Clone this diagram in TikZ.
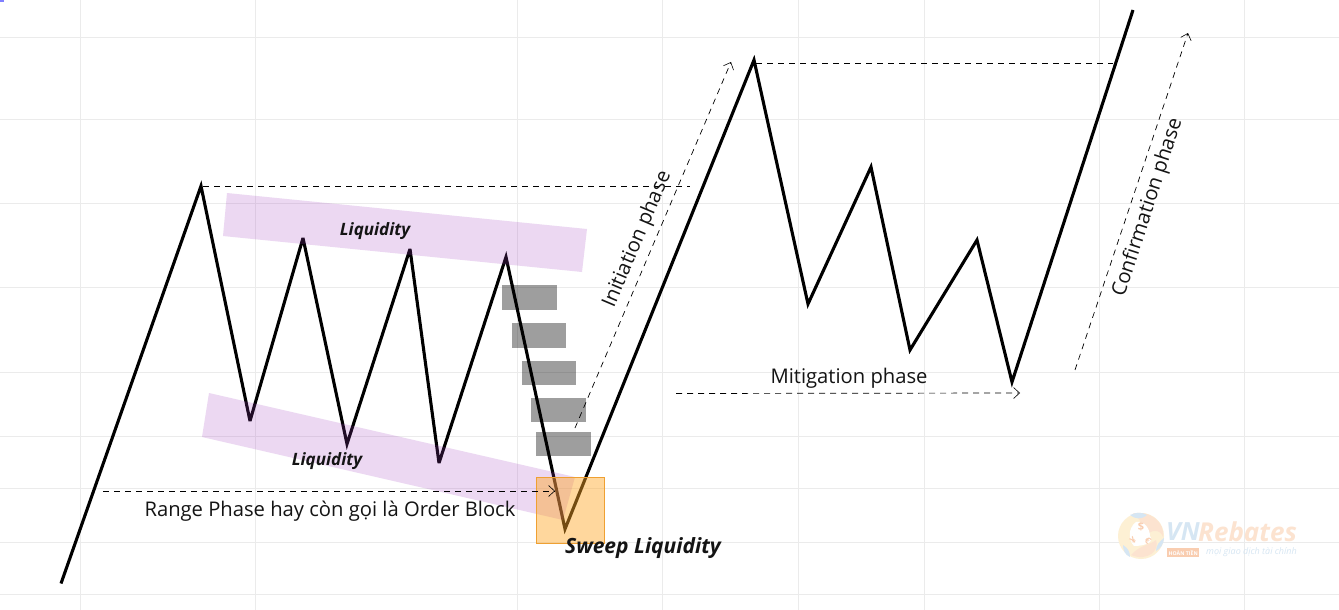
\documentclass[tikz,border=0pt]{standalone}
\usepackage{fontspec}
\setmainfont{Open Sans}
\usetikzlibrary{arrows.meta}
\definecolor{gridc}{HTML}{EBEBEB}
\definecolor{bandc}{HTML}{A040C0}
\definecolor{boxc}{HTML}{FFA726}
\definecolor{boxe}{HTML}{EFA032}
\definecolor{wmo}{HTML}{FCE3D0}
\definecolor{wmb}{HTML}{D6E6F3}
\definecolor{wmy}{HTML}{FDF0D4}
\definecolor{wmd}{HTML}{F9CDB0}
\tikzset{
 gridline/.style={draw=gridc,line width=.8pt},
 price/.style={draw=black,line width=3.1pt,line join=miter,miter limit=4},
 band/.style={fill=bandc,fill opacity=.2,draw=none},
 graybox/.style={fill=black,fill opacity=.38,draw=none},
 sweepbox/.style={fill=boxc,fill opacity=.45,draw=boxe,line width=.8pt},
 guide/.style={draw=black,line width=.7pt,dash pattern=on 6pt off 5pt},
 guidearrow/.style={guide,-{Straight Barb[length=6pt,width=11pt,line width=.6pt]}},
 phase/.style={font=\fontsize{20.2}{24}\selectfont,text=black!92,inner sep=0pt},
 liq/.style={font=\fontsize{17}{20}\selectfont\bfseries\itshape,text=black!92,inner sep=0pt},
 wm/.style={inner sep=0pt}
}
\begin{document}
\begin{tikzpicture}[x=1pt,y=-1pt]
\useasboundingbox (0,0) rectangle (1339,610);
\fill[white] (0,0) rectangle (1339,610);
\foreach \gx in {80,255,517,662,798,924,1099,1244} \draw[gridline] (\gx,0) -- (\gx,610);
\foreach \gy in {37,119,203,287,372,436,488,542,594} \draw[gridline] (0,\gy) -- (1339,\gy);
\fill[blue!50!white] (0,0) rectangle (4,2);
% gray blocks
\fill[graybox] (502,285) rectangle (557,310);
\fill[graybox] (512,323) rectangle (566,348);
\fill[graybox] (522,361) rectangle (576,385);
\fill[graybox] (531,398) rectangle (586,422);
\fill[graybox] (536,432) rectangle (591,456);
% price path
\coordinate (p0) at (61,583.5);
\coordinate (p1) at (201,186);
\coordinate (p2) at (250,421);
\coordinate (p3) at (303,238);
\coordinate (p4) at (347,444);
\coordinate (p5) at (410,249);
\coordinate (p6) at (439,463);
\coordinate (p7) at (506,257);
\coordinate (p8) at (565,529);
\coordinate (p9) at (754,60);
\coordinate (p10) at (808,304);
\coordinate (p11) at (871,167);
\coordinate (p12) at (910,350);
\coordinate (p13) at (977,240);
\coordinate (p14) at (1012,382);
\coordinate (p15) at (1133,10);
\draw[price] (p0)--(p1)--(p2)--(p3)--(p4)--(p5)--(p6)--(p7)--(p8)--(p9)--(p10)--(p11)--(p12)--(p13)--(p14)--(p15);
% liquidity bands
\fill[band] (227,193) -- (587,229) -- (582,272) -- (223,236) -- cycle;
\fill[band] (209,393) -- (575,477) -- (563,520) -- (202,437) -- cycle;
% sweep box
\filldraw[sweepbox] (536,477) rectangle (604.5,543);
% guides
\coordinate (g1a) at (203,186); \coordinate (g1b) at (690,186);
\coordinate (g2a) at (575,428); \coordinate (g2b) at (731,62);
\coordinate (g3a) at (756,63);  \coordinate (g3b) at (1113,63);
\coordinate (g4a) at (676,393.5); \coordinate (g4b) at (1020,393);
\coordinate (g5a) at (1075,370);\coordinate (g5b) at (1188,33);
\coordinate (g6a) at (103,491); \coordinate (g6b) at (555,491);
\draw[guide] (g1a)--(g1b);
\draw[guidearrow] (g2a)--(g2b);
\draw[guide] (g3a)--(g3b);
\draw[guidearrow] (g4a)--(g4b);
\draw[guidearrow] (g5a)--(g5b);
\draw[guidearrow] (g6a)--(g6b);
% labels
\node[liq] (liqa) at (375,231) {Liquidity};
\node[liq] (liqb) at (327,461) {Liquidity};
\node[font=\fontsize{21}{24}\selectfont\bfseries\itshape,text=black!92,inner sep=0pt] (sweep) at (643,548.5) {Sweep Liquidity};
\node[phase] (range) at (330,511) {Range Phase hay còn gọi là Order Block};
\node[phase] (init) at (637.5,239.5) [rotate=67] {Initiation phase};
\node[phase] (mit) at (849,378.5) {Mitigation phase};
\node[phase] (conf) at (1148,207.5) [rotate=72] {Confirmation phase};
% watermark
\fill[wmy] (1141,536) circle (23);
\fill[wmo] (1133,513.5) .. controls (1150,510) and (1165,522) .. (1163,537) .. controls (1160,528) and (1150,530) .. (1146,536) .. controls (1144,526) and (1140,518) .. (1133,513.5) -- cycle;
\fill[wmo] (1131,555) .. controls (1140,545) and (1150,545) .. (1156,540) .. controls (1160,550) and (1148,562) .. (1131,555) -- cycle;
\fill[white] (1136,522) .. controls (1145,520) and (1150,530) .. (1150,536) .. controls (1155,542) and (1145,546) .. (1134,546) .. controls (1128,540) and (1128,528) .. (1136,522) -- cycle;
\fill[wmb] (1130,515) .. controls (1136,512) and (1142,512) .. (1147,515) .. controls (1141,520) and (1135,519) .. (1130,515) -- cycle;
\fill[wmb] (1123,545) .. controls (1128,548) and (1130,552) .. (1130,557) .. controls (1125,555) and (1123,550) .. (1123,545) -- cycle;
\fill[wmb] (1164,538) .. controls (1164,544) and (1160,549) .. (1156,551) .. controls (1156,545) and (1160,541) .. (1164,538) -- cycle;
\node[wm,font=\fontsize{11}{12}\selectfont\bfseries,text=wmd] (wmdollar) at (1141,527) {\$};
\node[wm,font=\fontsize{9}{10}\selectfont\bfseries,text=wmd,rotate=40] (wmyen) at (1133,540) {¥};
\node[wm,font=\fontsize{9}{10}\selectfont\bfseries,text=wmd,rotate=-40] (wmeuro) at (1148,541) {€};
\node[wm,anchor=west,font=\fontsize{25}{27}\selectfont\bfseries\itshape,text=wmb] (wmvn) at (1166,532) {VN};
\node[wm,anchor=west,font=\fontsize{26}{28}\selectfont\bfseries\itshape,text=wmo] (wmre) at (1198,532) {Rebates};
\node[wm,anchor=west,font=\fontsize{5.2}{6}\selectfont\bfseries,text=white,fill=wmd,inner xsep=1.5pt,inner ysep=2pt] (wmht) at (1167,552.5) {HOÀN TIỀN};
\node[wm,anchor=west,font=\fontsize{9}{10}\selectfont\itshape,text=wmb] (wmtx) at (1206,552) {mọi giao dịch tài chính};
\end{tikzpicture}
\end{document}
